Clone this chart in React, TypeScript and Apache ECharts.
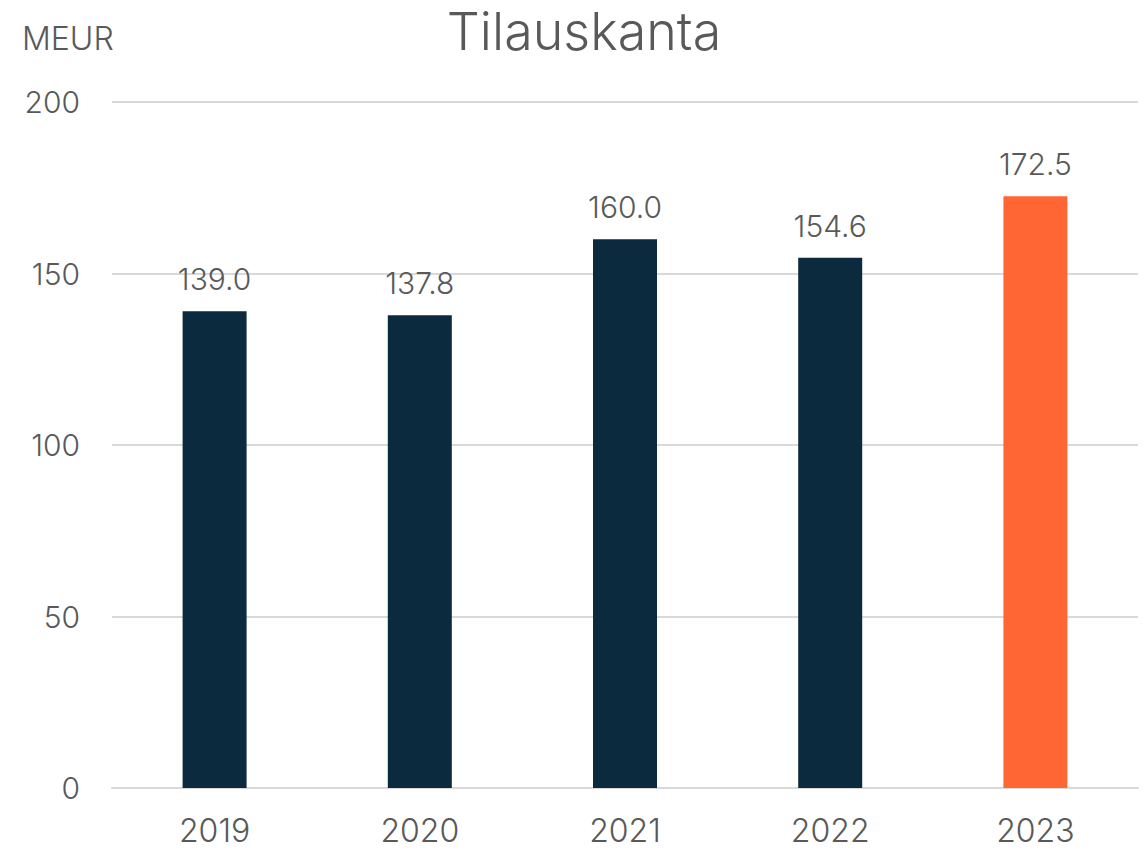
import React, { useEffect, useRef } from "react";
import * as echarts from "echarts";

const categories = ["2019", "2020", "2021", "2022", "2023"];
const values = [139.0, 137.8, 160.0, 154.6, 172.5];
const yTicks = [0, 50, 100, 150, 200];

const NAVY = "#0B2A3E";
const ORANGE = "#FF6633";
const TEXT = "#595959";
const FONT = "Inter";

export default function App() {
  const ref = useRef<HTMLDivElement>(null);
  useEffect(() => {
    document.body.style.margin = "0";
    if (!ref.current) return;
    const chart = echarts.init(ref.current, null, { renderer: "svg" });
    chart.setOption({
      animation: false,
      backgroundColor: "#ffffff",
      graphic: [
        {
          type: "text",
          x: 584,
          y: 31,
          style: {
            text: "Tilauskanta",
            fontFamily: FONT,
            fontWeight: 300,
            fontSize: 52,
            fill: TEXT,
            align: "center",
            verticalAlign: "middle",
          },
        },
        {
          type: "text",
          x: 22,
          y: 38.5,
          style: {
            text: "MEUR",
            fontFamily: FONT,
            fontWeight: 300,
            fontSize: 32,
            fill: TEXT,
            align: "left",
            verticalAlign: "middle",
          },
        },
      ],
      grid: { left: 112, right: 9, top: 102, bottom: 63, containLabel: false },
      xAxis: {
        type: "category",
        data: categories,
        axisLine: { show: true, lineStyle: { color: "#D9D9D9", width: 2 } },
        axisTick: { show: false },
        axisLabel: { fontFamily: FONT, fontWeight: 300, fontSize: 32, color: TEXT, margin: 26 },
      },
      yAxis: {
        type: "value",
        min: yTicks[0],
        max: yTicks[yTicks.length - 1],
        interval: 50,
        axisLine: { show: false },
        axisTick: { show: false },
        splitLine: { lineStyle: { color: "#D9D9D9", width: 2 } },
        axisLabel: { fontFamily: FONT, fontWeight: 300, fontSize: 30, color: TEXT, margin: 32 },
      },
      series: [
        {
          type: "bar",
          barWidth: 64,
          data: values.map((v, i) => ({
            value: v,
            itemStyle: { color: i === values.length - 1 ? ORANGE : NAVY },
          })),
          label: {
            show: true,
            position: "top",
            distance: 17,
            formatter: (p: any) => Number(p.value).toFixed(1),
            fontFamily: FONT,
            fontWeight: 300,
            fontSize: 30,
            color: TEXT,
          },
        },
      ],
    });
    return () => chart.dispose();
  }, []);
  return <div ref={ref} style={{ width: 1147, height: 851 }} />;
}
